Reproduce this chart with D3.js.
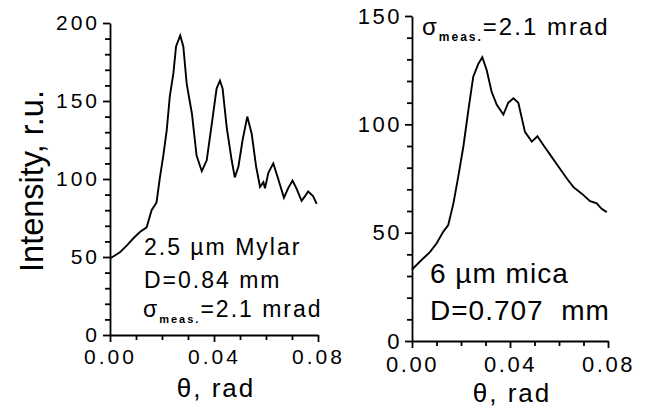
<!DOCTYPE html>
<html>
<head>
<meta charset="utf-8">
<script src="https://cdn.jsdelivr.net/npm/d3@7"></script>
<style>
  body { margin: 0; background: #fff; }
  text { font-family: "Liberation Sans", Arial, sans-serif; fill: #000; }
</style>
</head>
<body>
<script>
// 2.5 um Mylar, D=0.84 mm
var mylarTheta = [0.000, 0.0038, 0.0065, 0.0090, 0.0115, 0.0141, 0.0160, 0.0179, 0.0192, 0.0205,
                  0.0218, 0.0230, 0.0244, 0.0254, 0.0270, 0.0282, 0.0295, 0.0315, 0.0333, 0.0353,
                  0.0372, 0.0392, 0.0410, 0.0423, 0.0433, 0.0449, 0.0468, 0.0480, 0.0494, 0.0510,
                  0.0528, 0.0545, 0.0562, 0.0577, 0.0590, 0.0596, 0.0609, 0.0628, 0.0647, 0.0669,
                  0.0685, 0.0702, 0.0717, 0.0737, 0.0750, 0.0762, 0.0781, 0.0795];
var mylarIntensity = [49, 53, 57.5, 62, 66, 69, 80, 85, 101, 115,
                      131, 153, 168, 185, 192, 185, 161, 142, 115, 105,
                      112, 136, 158, 163, 158, 133, 112, 101, 108, 125,
                      140, 129, 108, 95, 98, 94, 104, 110, 100, 88,
                      94, 99, 94, 86, 89, 92, 89, 84];

// 6 um mica, D=0.707 mm
var micaTheta = [0.000, 0.0040, 0.0073, 0.0100, 0.0128, 0.0148, 0.0169, 0.0189, 0.0210, 0.0230,
                 0.0250, 0.0271, 0.0287, 0.0305, 0.0325, 0.0346, 0.0373, 0.0393, 0.0414, 0.0434,
                 0.0461, 0.0489, 0.0512, 0.0536, 0.0570, 0.0604, 0.0632, 0.0659, 0.0693, 0.0727,
                 0.0754, 0.0774, 0.0795];
var micaIntensity = [33, 37.5, 41, 45, 50.5, 53.5, 63.5, 76, 90, 106.5,
                     122, 128, 131, 125, 115, 109, 104.5, 110, 112, 110,
                     96.5, 92, 94.5, 90.5, 85, 79.5, 75, 71, 68, 64.5,
                     63.5, 61, 59.5];

var xTicks = [0.00, 0.04, 0.08];
var xMinor = [0.01, 0.02, 0.03, 0.05, 0.06, 0.07];
var mylarYTicks = [0, 50, 100, 150, 200];
var micaYTicks = [0, 50, 100, 150];

var svg = d3.select("body").append("svg")
    .attr("width", 658)
    .attr("height", 409);

function minorY(max) {
  var out = [];
  for (var v = 10; v < max; v += 10) { if (v % 50 !== 0) out.push(v); }
  return out;
}

function drawPanel(p) {
  var x = d3.scaleLinear().domain([0, 0.08]).range([p.x0, p.x1]);
  var y = d3.scaleLinear().domain([0, p.ymax]).range([p.y0, p.y1]);

  // minor ticks
  svg.append("g").attr("transform", "translate(0," + p.y0 + ")")
      .call(d3.axisBottom(x).tickValues(xMinor).tickSize(5).tickSizeOuter(0).tickFormat(""))
      .call(function (g) { g.select(".domain").remove(); });
  svg.append("g").attr("transform", "translate(" + p.x0 + ",0)")
      .call(d3.axisLeft(y).tickValues(minorY(p.ymax)).tickSize(5).tickSizeOuter(0).tickFormat(""))
      .call(function (g) { g.select(".domain").remove(); });

  var xa = svg.append("g").attr("transform", "translate(0," + p.y0 + ")")
      .call(d3.axisBottom(x).tickValues(xTicks).tickSize(7).tickPadding(p.xPad).tickSizeOuter(0)
            .tickFormat(d3.format(".2f")));
  var ya = svg.append("g").attr("transform", "translate(" + p.x0 + ",0)")
      .call(d3.axisLeft(y).tickValues(p.yTicks).tickSize(7).tickPadding(3).tickSizeOuter(0));

  [xa, ya].forEach(function (g) {
    g.selectAll("text")
      .style("font-size", p.tickFont + "px")
      .style("letter-spacing", p.tickSpacing + "px")
      .attr("fill", "#000");
  });
  svg.selectAll("g .domain, g .tick line").attr("stroke", "#000").attr("stroke-width", 1.8);

  var line = d3.line().x(function (d) { return x(d[0]); }).y(function (d) { return y(d[1]); });
  svg.append("path")
      .datum(d3.zip(p.theta, p.values))
      .attr("d", line)
      .attr("fill", "none")
      .attr("stroke", "#000")
      .attr("stroke-width", 1.9)
      .attr("stroke-linejoin", "miter");

  svg.append("text")
      .attr("x", (p.x0 + p.x1) / 2 + 2)
      .attr("y", p.titleY)
      .attr("text-anchor", "middle")
      .style("font-size", "26px")
      .style("letter-spacing", "2px")
      .text("\u03b8, rad");
  return { x: x, y: y };
}

drawPanel({ x0: 110, x1: 318, y0: 335, y1: 23, ymax: 200, yTicks: mylarYTicks, xPad: 7,
            theta: mylarTheta, values: mylarIntensity, tickFont: 21, tickSpacing: 3, titleY: 397 });
drawPanel({ x0: 412, x1: 608, y0: 341, y1: 16, ymax: 150, yTicks: micaYTicks, xPad: 8,
            theta: micaTheta, values: micaIntensity, tickFont: 22, tickSpacing: 2.5, titleY: 402 });

// y axis title
svg.append("text")
    .attr("transform", "translate(43,181) rotate(-90)")
    .attr("text-anchor", "middle")
    .attr("textLength", 182)
    .attr("lengthAdjust", "spacingAndGlyphs")
    .style("font-size", "33px")
    .text("Intensity, r.u.");

// annotations
function note(x, y, size, spacing, str) {
  return svg.append("text").attr("x", x).attr("y", y)
      .style("font-size", size + "px")
      .style("letter-spacing", spacing + "px")
      .style("white-space", "pre")
      .text(str);
}
function sigma(x, y, size, subSize) {
  var t = svg.append("text").attr("x", x).attr("y", y)
      .style("font-size", size + "px").style("letter-spacing", "2px");
  t.append("tspan").text("\u03c3");
  t.append("tspan").attr("dy", 6).style("font-size", subSize + "px")
      .style("letter-spacing", "2px").style("font-weight", "bold").text("meas.");
  t.append("tspan").attr("dy", -6).text("=2.1 mrad");
}

note(144, 255, 23, 2, "2.5 \u00b5m Mylar");
note(144, 288, 23, 2, "D=0.84 mm");
sigma(143, 317, 23, 11);

sigma(422, 35, 24, 12);
note(430, 283, 28, 1, "6 \u00b5m mica");
note(430, 320, 28, 1, "D=0.707  mm");
</script>
</body>
</html>
